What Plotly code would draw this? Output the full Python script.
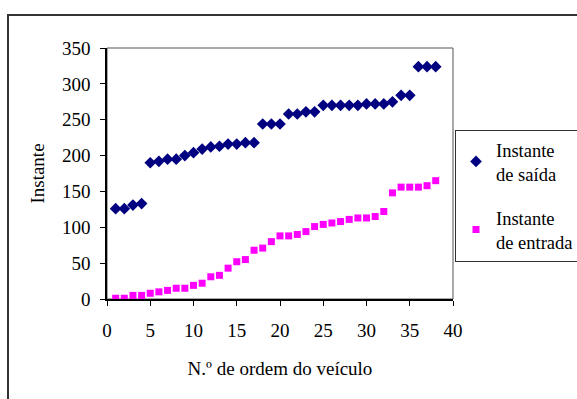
import plotly.graph_objects as go

vehicle = list(range(1, 39))
saida = [126, 126, 131, 133, 190, 192, 195, 195, 200, 204, 209, 212, 213, 216, 216, 218, 218,
         244, 244, 244, 258, 258, 261, 261, 270, 270, 270, 270, 270, 272, 272, 272, 275,
         284, 284, 324, 324, 324]
entrada = [1, 1, 5, 5, 8, 10, 12, 15, 15, 19, 22, 31, 33, 43, 52, 55, 68, 71, 80, 88,
           88, 90, 94, 101, 104, 106, 108, 111, 113, 113, 115, 122, 148, 156, 156, 156, 158, 165]

FONT = "Liberation Serif"
SIZE = 19
F = dict(family=FONT, size=SIZE, color="black")
FL = dict(family=FONT, size=18.5, color="black")

fig = go.Figure()
fig.add_trace(go.Scatter(x=vehicle, y=saida, mode="markers", name="Instante<br>de saída",
                         legendgroup="saida",
                         marker=dict(symbol="diamond", size=9, color="#000080")))
fig.add_trace(go.Scatter(x=vehicle, y=entrada, mode="markers", name="Instante<br>de entrada",
                         legendgroup="entrada",
                         marker=dict(symbol="square", size=7, color="#FF00FF")))

L, R, T, B = 107, 453, 48, 299.5
W, H = 577, 399
pw, ph = R - L, B - T

def px(x):
    return (x - L) / pw

def py(y):
    return (B - y) / ph

fig.update_layout(
    width=W, height=H,
    margin=dict(l=L, r=W - R, t=T, b=H - B, autoexpand=False),
    paper_bgcolor="white", plot_bgcolor="white",
    font=F,
    showlegend=True,
    legend=dict(x=px(455), y=py(130), xanchor="left", yanchor="top",
                bordercolor="#333333", borderwidth=1, bgcolor="white",
                font=FL, tracegroupgap=17, itemwidth=30),
    xaxis=dict(range=[0, 40], dtick=5, showgrid=False, zeroline=False,
               showline=True, linecolor="black", linewidth=1.5,
               ticks="outside", ticklen=5, tickcolor="black", ticklabelstandoff=8,
               tickfont=F,
               title=dict(text="N.º de ordem do veículo", standoff=22, font=F)),
    yaxis=dict(range=[0, 350], dtick=50, showgrid=False, zeroline=False,
               showline=True, linecolor="black", linewidth=1.5,
               ticks="outside", ticklen=5, tickcolor="black", ticklabelstandoff=6,
               tickfont=F,
               title=dict(text="Instante", standoff=12, font=F)),
    shapes=[
        dict(type="rect", xref="paper", yref="paper", x0=0, x1=1, y0=0, y1=1,
             line=dict(color="#555555", width=1), layer="below"),
        dict(type="rect", xref="paper", yref="paper", x0=px(8), x1=px(640), y0=py(450), y1=py(15),
             line=dict(color="#333333", width=2), layer="below"),
    ],
)

fig.write_html("out.html")
